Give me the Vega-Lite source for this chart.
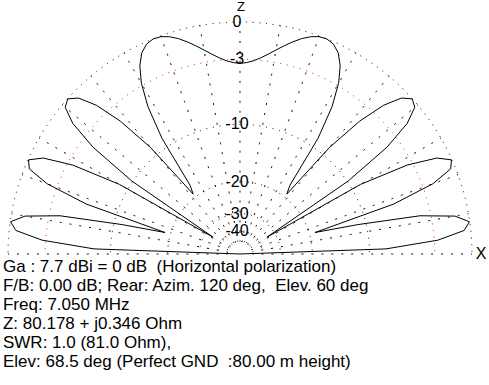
{
  "$schema": "https://vega.github.io/schema/vega-lite/v6.json",
  "width": 489,
  "height": 254,
  "autosize": "none",
  "padding": {"left": 0, "top": 0, "right": 0, "bottom": 131},
  "background": "white",
  "config": {"view": {"stroke": null}, "axis": {"disable": true}},
  "datasets": {
    "rings": [
      {"db": "0", "r": 1.0, "kind": "k"},
      {"db": "-3", "r": 0.8396, "kind": "r"},
      {"db": "-10", "r": 0.5584, "kind": "k"},
      {"db": "-20", "r": 0.3118, "kind": "k"},
      {"db": "-30", "r": 0.1741, "kind": "k"},
      {"db": "-40", "r": 0.0972, "kind": "k"},
      {"db": "", "r": 0.0543, "kind": "k"}
    ],
    "spokes": [
      {"a": 0}, {"a": 10}, {"a": 20}, {"a": 30}, {"a": 40}, {"a": 50}, {"a": 60}, {"a": 70}, {"a": 80}, {"a": 90},
      {"a": 100}, {"a": 110}, {"a": 120}, {"a": 130}, {"a": 140}, {"a": 150}, {"a": 160}, {"a": 170}, {"a": 180}
    ],
    "pattern": [
      {"e": 0, "x": 0, "y": 0},
      {"e": 2, "x": 0.6293, "y": 0.0220},
      {"e": 4, "x": 0.8532, "y": 0.0597},
      {"e": 6, "x": 0.9662, "y": 0.1015},
      {"e": 8, "x": 0.9889, "y": 0.1390},
      {"e": 10, "x": 0.9264, "y": 0.1634},
      {"e": 12, "x": 0.7755, "y": 0.1648},
      {"e": 14, "x": 0.5080, "y": 0.1267},
      {"e": 16, "x": 0.3235, "y": 0.0928},
      {"e": 18, "x": 0.6623, "y": 0.2152},
      {"e": 20, "x": 0.8308, "y": 0.3024},
      {"e": 22, "x": 0.9081, "y": 0.3669},
      {"e": 24, "x": 0.9114, "y": 0.4058},
      {"e": 26, "x": 0.8483, "y": 0.4137},
      {"e": 28, "x": 0.7210, "y": 0.3834},
      {"e": 30, "x": 0.5198, "y": 0.3001},
      {"e": 32, "x": 0.1158, "y": 0.0724},
      {"e": 34, "x": 0.4663, "y": 0.3145},
      {"e": 36, "x": 0.6335, "y": 0.4602},
      {"e": 38, "x": 0.7209, "y": 0.5632},
      {"e": 40, "x": 0.7533, "y": 0.6321},
      {"e": 42, "x": 0.7425, "y": 0.6686},
      {"e": 44, "x": 0.6960, "y": 0.6722},
      {"e": 46, "x": 0.6193, "y": 0.6413},
      {"e": 48, "x": 0.5158, "y": 0.5728},
      {"e": 50, "x": 0.3843, "y": 0.4579},
      {"e": 52, "x": 0.2018, "y": 0.2582},
      {"e": 54, "x": 0.2152, "y": 0.2963},
      {"e": 56, "x": 0.3361, "y": 0.4983},
      {"e": 58, "x": 0.3966, "y": 0.6347},
      {"e": 60, "x": 0.4251, "y": 0.7362},
      {"e": 62, "x": 0.4319, "y": 0.8123},
      {"e": 64, "x": 0.4231, "y": 0.8674},
      {"e": 66, "x": 0.4028, "y": 0.9046},
      {"e": 68, "x": 0.3745, "y": 0.9268},
      {"e": 70, "x": 0.3410, "y": 0.9368},
      {"e": 72, "x": 0.3043, "y": 0.9365},
      {"e": 74, "x": 0.2662, "y": 0.9285},
      {"e": 76, "x": 0.2280, "y": 0.9146},
      {"e": 78, "x": 0.1908, "y": 0.8978},
      {"e": 80, "x": 0.1550, "y": 0.8792},
      {"e": 82, "x": 0.1210, "y": 0.8612},
      {"e": 84, "x": 0.0888, "y": 0.8452},
      {"e": 86, "x": 0.0582, "y": 0.8328},
      {"e": 88, "x": 0.0288, "y": 0.8249},
      {"e": 90, "x": 0, "y": 0.8221},
      {"e": 92, "x": -0.0288, "y": 0.8249},
      {"e": 94, "x": -0.0582, "y": 0.8328},
      {"e": 96, "x": -0.0888, "y": 0.8452},
      {"e": 98, "x": -0.1210, "y": 0.8612},
      {"e": 100, "x": -0.1550, "y": 0.8792},
      {"e": 102, "x": -0.1908, "y": 0.8978},
      {"e": 104, "x": -0.2280, "y": 0.9146},
      {"e": 106, "x": -0.2662, "y": 0.9285},
      {"e": 108, "x": -0.3043, "y": 0.9365},
      {"e": 110, "x": -0.3410, "y": 0.9368},
      {"e": 112, "x": -0.3745, "y": 0.9268},
      {"e": 114, "x": -0.4028, "y": 0.9046},
      {"e": 116, "x": -0.4231, "y": 0.8674},
      {"e": 118, "x": -0.4319, "y": 0.8123},
      {"e": 120, "x": -0.4251, "y": 0.7362},
      {"e": 122, "x": -0.3966, "y": 0.6347},
      {"e": 124, "x": -0.3361, "y": 0.4983},
      {"e": 126, "x": -0.2152, "y": 0.2963},
      {"e": 128, "x": -0.2018, "y": 0.2582},
      {"e": 130, "x": -0.3843, "y": 0.4579},
      {"e": 132, "x": -0.5158, "y": 0.5728},
      {"e": 134, "x": -0.6193, "y": 0.6413},
      {"e": 136, "x": -0.6960, "y": 0.6722},
      {"e": 138, "x": -0.7425, "y": 0.6686},
      {"e": 140, "x": -0.7533, "y": 0.6321},
      {"e": 142, "x": -0.7209, "y": 0.5632},
      {"e": 144, "x": -0.6335, "y": 0.4602},
      {"e": 146, "x": -0.4663, "y": 0.3145},
      {"e": 148, "x": -0.1158, "y": 0.0724},
      {"e": 150, "x": -0.5198, "y": 0.3001},
      {"e": 152, "x": -0.7210, "y": 0.3834},
      {"e": 154, "x": -0.8483, "y": 0.4137},
      {"e": 156, "x": -0.9114, "y": 0.4058},
      {"e": 158, "x": -0.9081, "y": 0.3669},
      {"e": 160, "x": -0.8308, "y": 0.3024},
      {"e": 162, "x": -0.6623, "y": 0.2152},
      {"e": 164, "x": -0.3235, "y": 0.0928},
      {"e": 166, "x": -0.5080, "y": 0.1267},
      {"e": 168, "x": -0.7755, "y": 0.1648},
      {"e": 170, "x": -0.9264, "y": 0.1634},
      {"e": 172, "x": -0.9889, "y": 0.1390},
      {"e": 174, "x": -0.9662, "y": 0.1015},
      {"e": 176, "x": -0.8532, "y": 0.0597},
      {"e": 178, "x": -0.6293, "y": 0.0220},
      {"e": 180, "x": 0, "y": 0}
    ],
    "info": [
      {"lines": [
        "Ga : 7.7 dBi = 0 dB \u00a0(Horizontal polarization)",
        "F/B: 0.00 dB; Rear: Azim. 120 deg, \u00a0Elev. 60 deg",
        "Freq: 7.050 MHz",
        "Z: 80.178 + j0.346 Ohm",
        "SWR: 1.0 (81.0 Ohm),",
        "Elev: 68.5 deg (Perfect GND \u00a0:80.00 m height)"
      ]}
    ]
  },
  "layer": [
    {
      "data": {"name": "rings"},
      "mark": {"type": "point", "shape": "circle", "filled": false, "clip": true, "strokeWidth": 1, "strokeDash": [1, 5.7], "opacity": 1},
      "encoding": {
        "x": {"datum": 0, "type": "quantitative", "scale": {"domain": [-1.03448, 1.07328], "zero": false, "nice": false}, "axis": null},
        "y": {"datum": 0, "type": "quantitative", "scale": {"domain": [0, 1.09483], "zero": false, "nice": false}, "axis": null},
        "size": {"field": "r", "type": "quantitative", "scale": {"type": "pow", "exponent": 2, "domain": [0, 1], "range": [0, 215296]}, "legend": null},
        "stroke": {"field": "kind", "type": "nominal", "scale": {"domain": ["k", "r"], "range": ["#000000", "#ff0000"]}, "legend": null}
      }
    },
    {
      "data": {"name": "spokes"},
      "mark": {"type": "arc", "filled": false, "stroke": "#000000", "strokeWidth": 1, "strokeDash": [1, 8.973]},
      "encoding": {
        "x": {"datum": 0, "type": "quantitative", "scale": {"domain": [-1.03448, 1.07328], "zero": false, "nice": false}, "axis": null},
        "y": {"datum": 0, "type": "quantitative", "scale": {"domain": [0, 1.09483], "zero": false, "nice": false}, "axis": null},
        "theta": {"field": "a", "type": "quantitative", "stack": null, "scale": {"domain": [0, 180], "range": [1.5708, -1.5708]}},
        "theta2": {"field": "a"},
        "radius": {"datum": 1, "type": "quantitative", "scale": {"type": "linear", "domain": [0, 1], "range": [0, 232], "zero": true}},
        "radius2": {"datum": 0.0543}
      }
    },
    {
      "data": {"name": "pattern"},
      "mark": {"type": "line", "color": "#000000", "strokeWidth": 1},
      "encoding": {
        "x": {"field": "x", "type": "quantitative", "scale": {"domain": [-1.03448, 1.07328], "zero": false, "nice": false}, "axis": null},
        "y": {"field": "y", "type": "quantitative", "scale": {"domain": [0, 1.09483], "zero": false, "nice": false}, "axis": null},
        "order": {"field": "e", "type": "quantitative"}
      }
    },
    {
      "data": {"name": "rings"},
      "mark": {"type": "text", "font": "Liberation Sans", "fontSize": 16, "align": "center", "baseline": "middle", "color": "#000000"},
      "encoding": {
        "x": {"datum": -0.013, "type": "quantitative", "scale": {"domain": [-1.03448, 1.07328], "zero": false, "nice": false}, "axis": null},
        "y": {"field": "r", "type": "quantitative", "scale": {"domain": [0, 1.09483], "zero": false, "nice": false}, "axis": null},
        "text": {"field": "db"}
      }
    },
    {
      "data": {"values": [{}]},
      "mark": {"type": "text", "font": "Liberation Sans", "fontSize": 13, "align": "center", "baseline": "top", "color": "#000000"},
      "encoding": {
        "x": {"datum": 0.004, "type": "quantitative", "scale": {"domain": [-1.03448, 1.07328], "zero": false, "nice": false}, "axis": null},
        "y": {"datum": 1.0884, "type": "quantitative", "scale": {"domain": [0, 1.09483], "zero": false, "nice": false}, "axis": null},
        "text": {"value": "Z"}
      }
    },
    {
      "data": {"values": [{}]},
      "mark": {"type": "text", "font": "Liberation Sans", "fontSize": 16, "align": "center", "baseline": "middle", "color": "#000000"},
      "encoding": {
        "x": {"datum": 1.0388, "type": "quantitative", "scale": {"domain": [-1.03448, 1.07328], "zero": false, "nice": false}, "axis": null},
        "y": {"datum": 0, "type": "quantitative", "scale": {"domain": [0, 1.09483], "zero": false, "nice": false}, "axis": null},
        "text": {"value": "X"}
      }
    },
    {
      "data": {"name": "info"},
      "mark": {"type": "text", "font": "Liberation Sans", "fontSize": 17, "align": "left", "baseline": "alphabetic", "lineHeight": 19, "color": "#000000"},
      "encoding": {
        "x": {"datum": -1.0216, "type": "quantitative", "scale": {"domain": [-1.03448, 1.07328], "zero": false, "nice": false}, "axis": null},
        "y": {"datum": -0.0763, "type": "quantitative", "scale": {"domain": [0, 1.09483], "zero": false, "nice": false}, "axis": null},
        "text": {"field": "lines"}
      }
    }
  ]
}
